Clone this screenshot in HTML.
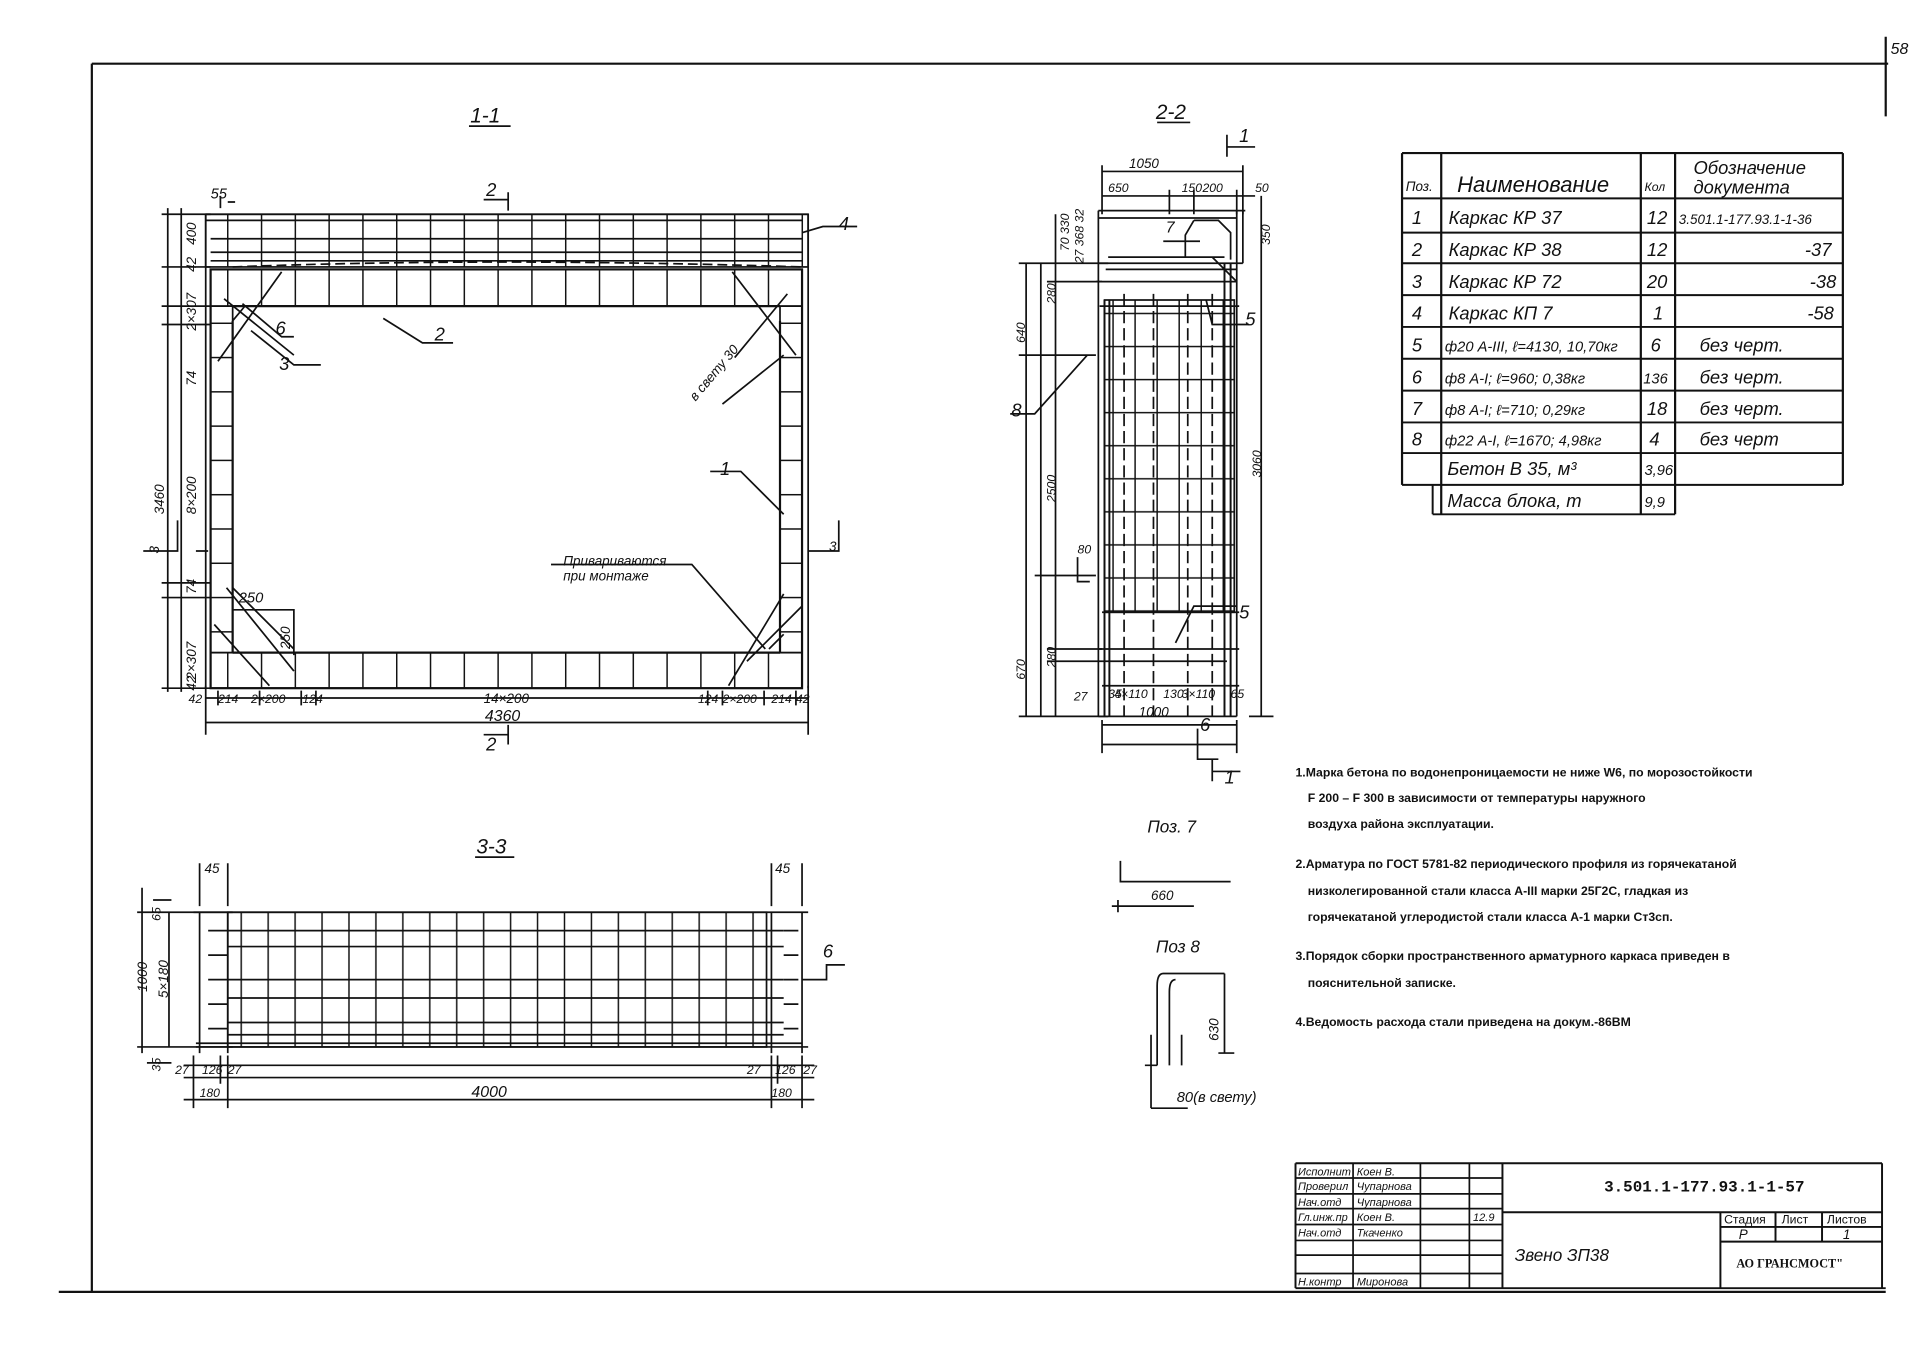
<!DOCTYPE html>
<html><head><meta charset="utf-8"><style>
html,body{margin:0;padding:0;background:#fff}
svg{display:block}
text{font-family:"Liberation Sans",sans-serif;fill:#111}
.h{font-style:italic}
</style></head><body>
<svg width="1920" height="1369" viewBox="0 0 1568 1118" preserveAspectRatio="none" xmlns="http://www.w3.org/2000/svg">
<defs>
<pattern id="vl" x="172" width="27.6" height="10" patternUnits="userSpaceOnUse"><line x1="14" y1="0" x2="14" y2="10" stroke="#111" stroke-width="1.2"/></pattern>
<pattern id="hl" y="250" width="10" height="28" patternUnits="userSpaceOnUse"><line x1="0" y1="14" x2="10" y2="14" stroke="#111" stroke-width="1.2"/></pattern>
<pattern id="vl3" x="186" width="22" height="10" patternUnits="userSpaceOnUse"><line x1="11" y1="0" x2="11" y2="10" stroke="#111" stroke-width="1.2"/></pattern>
<pattern id="gr" width="18" height="27" patternUnits="userSpaceOnUse"><path d="M9 0V27M0 13H18" stroke="#111" stroke-width="1.2" fill="none"/></pattern>
</defs>
<g stroke="#111" fill="none" stroke-width="1.4">
<!-- border -->
<path d="M75 52H1542M75 52V1055M48 1055H1540M1540 30V95" stroke-width="1.8"/>
<!-- ===== 1-1 ===== -->
<rect x="168" y="175" width="492" height="43" fill="url(#vl)"/>
<path d="M168 175H660M168 180H655M172 195H655M172 206H655M172 213H655" />
<path d="M190 218Q400 210 655 218" stroke-dasharray="8 4"/>
<rect x="172" y="220" width="483" height="30" fill="url(#vl)"/>
<rect x="172" y="533" width="483" height="29" fill="url(#vl)"/>
<rect x="172" y="250" width="18" height="283" fill="url(#hl)"/>
<rect x="637" y="250" width="18" height="283" fill="url(#hl)"/>
<rect x="172" y="220" width="483" height="342" stroke-width="1.8"/>
<path d="M190 262V533M637 262V533M190 250H637M190 533H637" stroke-width="1.8"/>
<path d="M230 222L178 295M183 244L240 290M200 250L190 262M598 222L650 290M643 240L600 292M170 450L160 450"/>
<path d="M185 480L240 548M175 510L220 560M240 530L190 480M640 485L595 560M655 495L610 540M628 530L640 518"/>
<path d="M168 175V562M660 175V562"/>
<!-- dims 1-1 -->
<path d="M137 170V565M148 170V565M132 175H172M132 218H172M132 250H172M132 265H172M132 476H172M132 488H172M132 562H172"/>
<path d="M168 570H660M168 590H660M168 560V600M660 560V600M178 564V576M212 564V576M246 564V576M258 564V576M578 564V576M590 564V576M624 564V576M650 564V576"/>
<path d="M180 170V160M186 165H192"/>
<path d="M395 163H415M415 157V172M395 600H415M415 592V608"/>
<path d="M190 498H240V506M240 505V535"/>
<path d="M655 190L672 185H700M313 260L345 280H370M205 270L240 298H262M198 248L230 275H240"/>
<path d="M640 420L605 385H580M590 330L640 290M450 461H565L625 530"/>
<path d="M117 450H145V425M660 450H685V425"/>
<path d="M383 103H417"/>
<!-- ===== 2-2 ===== -->
<path d="M897 172H1017M897 178H1010M897 215H1015M903 220H1010M898 250H1012M895 230H1010M897 172V585M1010 172V585M1015 172V215"/>
<path d="M975 180H995L1005 190V212M975 180L968 192V210M905 210H1000M950 197H980"/>
<rect x="902" y="245" width="106" height="255" fill="url(#gr)"/>
<path d="M902 245V585M906 245V585M1000 215V585M1005 215V585" stroke-width="1.6"/>
<path d="M918 240V585M942 240V585M970 240V585M990 240V585" stroke-dasharray="10 4"/>
<path d="M900 500H1012M897 530H1012M900 560H1012M897 585H1010M900 540H1002"/>
<path d="M1010 230L990 210M1020 265H990L985 245M1010 495H975L960 525"/>
<path d="M900 140H1015M900 160H1025M900 135V175M1015 135V175M955 155V175M975 155V175M1010 155V175"/>
<path d="M838 215V585M850 215V585M862 175V585M832 215H905M832 290H895M832 585H905M845 470H895M1030 160V585M1020 585H1040M855 230H900M855 530H900M855 540H900"/>
<path d="M900 592H1010M900 608H1010M900 588V615M1010 588V615M978 595V620H995"/>
<path d="M1002 120H1025M1002 110V128M990 630H1013M990 620V638"/>
<path d="M888 290L845 338H825M880 455V475H890"/>
<path d="M945 100H972"/>
<!-- ===== 3-3 ===== -->
<rect x="186" y="745" width="440" height="110" fill="url(#vl3)"/>
<path d="M158 745H660M160 855H660M160 852H655M186 760H640M186 773H640M186 800H640M186 815H640M186 835H640M186 845H640" />
<path d="M163 745V860M186 745V860M630 745V860M655 745V860M170 760H186M170 780H186M170 800H186M170 820H186M170 840H186M640 760H652M640 780H652M640 800H652M640 820H652M640 840H652"/>
<path d="M116 725V860M138 745V855M112 745H190M112 855H190M125 735H140M120 868H140"/>
<path d="M150 870H665M150 880H665M150 898H665M158 862V905M186 862V905M630 862V905M655 862V905M180 862V885M635 862V885"/>
<path d="M163 705V740M186 705V740M630 705V740M655 705V740"/>
<path d="M655 800H675V788H690"/>
<path d="M388 700H420"/>
<!-- Poz 7 / 8 -->
<path d="M915 703V720H1005M908 740H975M913 735V745"/>
<path d="M950 795H1000M950 795Q945 795 945 805V870M960 800Q955 800 955 810V870M940 845V870M965 845V870M945 870H935M1000 795V860M995 860H1008M940 870V905M940 905H970"/>
<!-- table -->
<path d="M1145 125H1505M1145 125V396M1177 125V420M1340 125V420M1368 125V420M1505 125V396" stroke-width="1.8"/>
<path d="M1145 162H1505M1145 190H1505M1145 215H1505M1145 241H1505M1145 267H1505M1145 293H1505M1145 319H1505M1145 345H1505M1145 370H1505M1145 396H1505M1170 420H1368M1170 396V420" stroke-width="1.6"/>
<!-- title block -->
<path d="M1058 950H1537M1058 950V1052M1058 1052H1540M1537 950V1052M1227 950V1052M1227 990H1537M1405 990V1052M1405 1002H1537M1405 1014H1537M1450 990V1014M1488 990V1014" stroke-width="1.6"/>
<path d="M1058 962H1227M1058 975H1227M1058 987H1227M1058 1000H1227M1058 1013H1227M1058 1025H1227M1058 1040H1227M1105 950V1052M1160 950V1052M1200 950V1052"/>
</g>
<!-- text -->
<g class="h" font-size="15">
<text x="384" y="100" font-size="17">1-1</text>
<text x="944" y="97" font-size="17">2-2</text>
<text x="389" y="697" font-size="17">3-3</text>
<text x="397" y="160">2</text><text x="397" y="613">2</text>
<text x="685" y="188">4</text><text x="355" y="278">2</text><text x="228" y="302">3</text><text x="225" y="273">6</text>
<text x="588" y="388">1</text>
<text x="172" y="162" font-size="12">55</text>
<text x="195" y="492" font-size="12">250</text>
<text x="460" y="462" font-size="11">Привариваются</text><text x="460" y="474" font-size="11">при монтаже</text>
<text transform="translate(568 328) rotate(-50)" font-size="11">в свету 30</text>
<text x="154" y="574" font-size="10">42</text><text x="178" y="574" font-size="10">214</text><text x="205" y="574" font-size="10">2×200</text><text x="247" y="574" font-size="10">124</text>
<text x="395" y="574" font-size="11">14×200</text>
<text x="570" y="574" font-size="10">124</text><text x="590" y="574" font-size="10">2×200</text><text x="630" y="574" font-size="10">214</text><text x="650" y="574" font-size="10">42</text>
<text x="396" y="589" font-size="13">4360</text>
<g font-size="11">
<text transform="translate(134 420) rotate(-90)">3460</text>
<text transform="translate(160 420) rotate(-90)">8×200</text>
<text transform="translate(160 270) rotate(-90)">2×307</text>
<text transform="translate(160 200) rotate(-90)">400</text>
<text transform="translate(160 222) rotate(-90)">42</text>
<text transform="translate(160 315) rotate(-90)">74</text>
<text transform="translate(160 485) rotate(-90)">74</text>
<text transform="translate(160 555) rotate(-90)">2×307</text>
<text transform="translate(160 564) rotate(-90)">42</text>
<text transform="translate(237 530) rotate(-90)">250</text>
<text transform="translate(130 452) rotate(-90)">3</text>
<text x="677" y="450">3</text>
</g>
<text x="922" y="137" font-size="11">1050</text>
<text x="905" y="157" font-size="10">650</text><text x="965" y="157" font-size="10">150</text><text x="982" y="157" font-size="10">200</text><text x="1025" y="157" font-size="10">50</text>
<text x="1012" y="116">1</text><text x="1000" y="640">1</text>
<text x="952" y="190" font-size="13">7</text><text x="1017" y="266">5</text><text x="1012" y="505">5</text><text x="826" y="340">8</text><text x="980" y="597">6</text>
<text x="880" y="452" font-size="10">80</text>
<text x="905" y="570" font-size="10">35</text><text x="910" y="570" font-size="10">4×110</text><text x="950" y="570" font-size="10">130</text><text x="965" y="570" font-size="10">3×110</text><text x="1005" y="570" font-size="10">65</text><text x="877" y="572" font-size="10">27</text>
<text x="930" y="585" font-size="11">1000</text>
<g font-size="10">
<text transform="translate(837 280) rotate(-90)">640</text>
<text transform="translate(862 410) rotate(-90)">2500</text>
<text transform="translate(1030 390) rotate(-90)">3060</text>
<text transform="translate(837 555) rotate(-90)">670</text>
<text transform="translate(862 248) rotate(-90)">280</text>
<text transform="translate(862 545) rotate(-90)">280</text>
<text transform="translate(873 205) rotate(-90)">70 330</text>
<text transform="translate(885 215) rotate(-90)">27 368 32</text>
<text transform="translate(1037 200) rotate(-90)">350</text>
</g>
<text x="167" y="713" font-size="11">45</text><text x="633" y="713" font-size="11">45</text><text x="672" y="782">6</text>
<text transform="translate(120 810) rotate(-90)" font-size="11">1000</text>
<text transform="translate(137 815) rotate(-90)" font-size="11">5×180</text>
<text transform="translate(131 752) rotate(-90)" font-size="10">65</text>
<text transform="translate(131 875) rotate(-90)" font-size="10">35</text>
<g font-size="10"><text x="143" y="877">27</text><text x="165" y="877">126</text><text x="186" y="877">27</text><text x="610" y="877">27</text><text x="633" y="877">126</text><text x="656" y="877">27</text><text x="163" y="896">180</text><text x="630" y="896">180</text></g>
<text x="385" y="896" font-size="13">4000</text>
<text x="937" y="680" font-size="14">Поз. 7</text>
<text x="940" y="735" font-size="11">660</text>
<text x="944" y="778" font-size="14">Поз 8</text>
<text transform="translate(995 850) rotate(-90)" font-size="11">630</text>
<text x="961" y="900" font-size="12">80(в свету)</text>
<!-- table text -->
<text x="1148" y="156" font-size="11">Поз.</text><text x="1190" y="157" font-size="18">Наименование</text><text x="1343" y="156" font-size="10">Кол</text>
<text x="1383" y="142" font-size="15">Обозначение</text><text x="1383" y="158" font-size="15">документа</text>
<text x="1153" y="183">1</text><text x="1183" y="183">Каркас КР 37</text><text x="1345" y="183">12</text><text x="1371" y="183" font-size="11">3.501.1-177.93.1-1-36</text>
<text x="1153" y="209">2</text><text x="1183" y="209">Каркас КР 38</text><text x="1345" y="209">12</text><text x="1474" y="209">-37</text>
<text x="1153" y="235">3</text><text x="1183" y="235">Каркас КР 72</text><text x="1345" y="235">20</text><text x="1478" y="235">-38</text>
<text x="1153" y="261">4</text><text x="1183" y="261">Каркас КП 7</text><text x="1350" y="261">1</text><text x="1476" y="261">-58</text>
<text x="1153" y="287">5</text><text x="1180" y="287" font-size="12">ф20 А-III, ℓ=4130, 10,70кг</text><text x="1348" y="287">6</text><text x="1388" y="287">без черт.</text>
<text x="1153" y="313">6</text><text x="1180" y="313" font-size="12">ф8 А-I; ℓ=960; 0,38кг</text><text x="1342" y="313" font-size="12">136</text><text x="1388" y="313">без черт.</text>
<text x="1153" y="339">7</text><text x="1180" y="339" font-size="12">ф8 А-I; ℓ=710; 0,29кг</text><text x="1345" y="339">18</text><text x="1388" y="339">без черт.</text>
<text x="1153" y="364">8</text><text x="1180" y="364" font-size="12">ф22 А-I, ℓ=1670; 4,98кг</text><text x="1347" y="364">4</text><text x="1388" y="364">без черт</text>
<text x="1182" y="388">Бетон В 35, м³</text><text x="1343" y="388" font-size="12">3,96</text>
<text x="1182" y="414">Масса блока, т</text><text x="1343" y="414" font-size="12">9,9</text>
<text x="1544" y="44" font-size="13">58</text>
</g>
<g font-size="10" font-weight="bold" style="font-style:normal">
<text x="1058" y="634">1.Марка бетона по водонепроницаемости не ниже W6, по морозостойкости</text>
<text x="1068" y="655">F 200 – F 300 в зависимости от                         температуры наружного</text>
<text x="1068" y="676">воздуха района эксплуатации.</text>
<text x="1058" y="709">2.Арматура по ГОСТ 5781-82 периодического профиля из горячекатаной</text>
<text x="1068" y="731">низколегированной стали класса А-III марки 25Г2С, гладкая из</text>
<text x="1068" y="752">горячекатаной углеродистой стали класса А-1 марки Ст3сп.</text>
<text x="1058" y="784">3.Порядок сборки пространственного арматурного каркаса приведен в</text>
<text x="1068" y="806">пояснительной записке.</text>
<text x="1058" y="838">4.Ведомость расхода стали приведена на докум.-86ВМ</text>
</g>
<g font-size="9" class="h">
<text x="1060" y="960">Исполнит</text><text x="1108" y="960">Коен В.</text>
<text x="1060" y="972">Проверил</text><text x="1108" y="972">Чупарнова</text>
<text x="1060" y="985">Нач.отд</text><text x="1108" y="985">Чупарнова</text>
<text x="1060" y="997">Гл.инж.пр</text><text x="1108" y="997">Коен В.</text><text x="1203" y="997">12.9</text>
<text x="1060" y="1010">Нач.отд</text><text x="1108" y="1010">Ткаченко</text>
<text x="1060" y="1050">Н.контр</text><text x="1108" y="1050">Миронова</text>
</g>
<text x="1310" y="973" font-size="13" font-weight="bold" style="font-family:'Liberation Mono',monospace">3.501.1-177.93.1-1-57</text>
<text x="1237" y="1030" font-size="14" class="h">Звено  ЗП38</text>
<text x="1408" y="999" font-size="10">Стадия</text><text x="1455" y="999" font-size="10">Лист</text><text x="1492" y="999" font-size="10">Листов</text>
<text x="1420" y="1012" font-size="11" class="h">Р</text><text x="1505" y="1012" font-size="11" class="h">1</text>
<text x="1418" y="1035" font-size="10" font-weight="bold" style="font-family:'Liberation Serif',serif">АО  ГРАНСМОСТ"</text>
</svg>
</body></html>
